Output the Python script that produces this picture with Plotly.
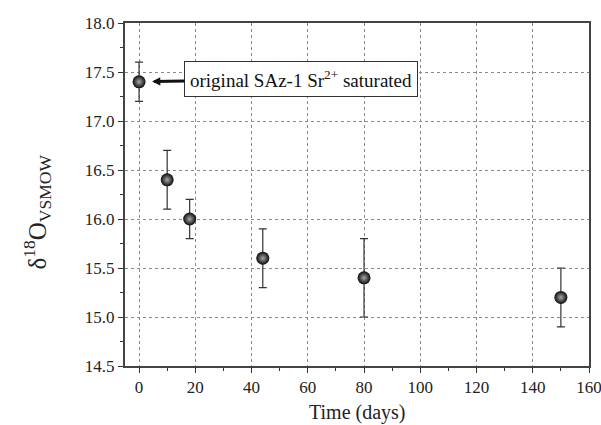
import plotly.graph_objects as go

time_days = [0, 10, 18, 44, 80, 150]
d18o = [17.4, 16.4, 16.0, 15.6, 15.4, 15.2]
err_plus = [0.2, 0.3, 0.2, 0.3, 0.4, 0.3]
err_minus = [0.2, 0.3, 0.2, 0.3, 0.4, 0.3]

FONT = "Liberation Serif"

fig = go.Figure()
fig.add_trace(go.Scatter(
    x=time_days, y=d18o, mode="markers",
    error_y=dict(type="data", symmetric=False, array=err_plus, arrayminus=err_minus,
                 color="#333333", thickness=1.2, width=4),
    marker=dict(size=13, color="#0a0a0a",
                gradient=dict(type="radial", color="#a8a8a8"),
                line=dict(width=0)),
    showlegend=False,
))

axis_common = dict(
    showline=True, linecolor="#444444", linewidth=2, mirror=True,
    ticks="outside", ticklen=5, tickwidth=1, tickcolor="#333333",
    showgrid=True, gridcolor="#8a8a8a", griddash="dot", gridwidth=1,
    zeroline=False, automargin=False, ticklabeloverflow="allow",
    tickfont=dict(family=FONT, size=17, color="#222222"),
)

fig.update_xaxes(range=[-5, 160], dtick=20, tick0=0,
                 minor=dict(dtick=10, ticks="outside", ticklen=3, tickcolor="#333333", showgrid=False),
                 **axis_common)
fig.update_yaxes(range=[14.5, 18.0], dtick=0.5, tick0=14.5, tickformat=".1f",
                 minor=dict(dtick=0.25, ticks="outside", ticklen=3, tickcolor="#333333", showgrid=False),
                 **axis_common)

fig.add_annotation(
    x=0.5, y=-0.135, xref="paper", yref="paper",
    text="Time (days)",
    font=dict(family=FONT, size=20, color="#222222"),
    showarrow=False, xanchor="center", yanchor="middle",
)

fig.add_annotation(
    x=-0.19, y=0.45, xref="paper", yref="paper",
    text="δ<sup>18</sup>O<sub>VSMOW</sub>", textangle=-90,
    font=dict(family=FONT, size=25, color="#222222"),
    showarrow=False, xanchor="center", yanchor="middle",
)

fig.add_annotation(
    x=0, y=17.4, xref="x", yref="y",
    text="original SAz-1 Sr<sup>2+</sup> saturated",
    font=dict(family=FONT, size=19, color="#111111"),
    showarrow=True, arrowhead=2, arrowsize=0.55, arrowwidth=3, arrowcolor="#111111",
    ax=162, ay=-3, standoff=13,
    bordercolor="#333333", borderwidth=1, borderpad=5, bgcolor="white",
)

fig.update_layout(
    width=601, height=425,
    margin=dict(l=125, r=12, t=23, b=59),
    paper_bgcolor="white", plot_bgcolor="white",
    font=dict(family=FONT),
)

fig.write_html("out.html")
